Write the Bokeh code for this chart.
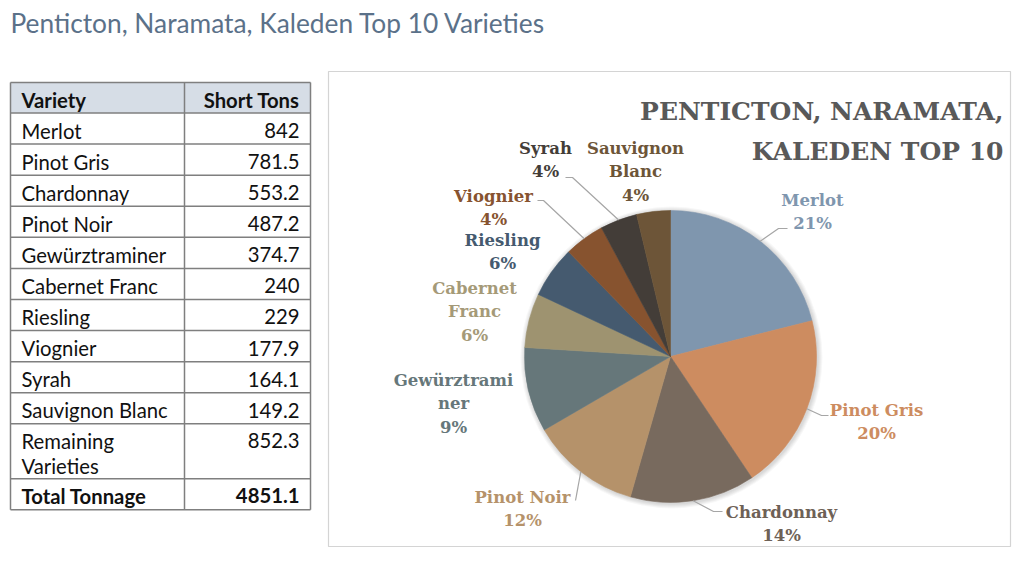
import math
from bokeh.plotting import figure
from bokeh.models import Range1d
from bokeh.core.properties import value
from bokeh.embed import file_html
from bokeh.resources import INLINE

# ---------------- data ----------------
page_title = "Penticton, Naramata, Kaleden Top 10 Varieties"
chart_title = ["PENTICTON, NARAMATA,", "KALEDEN TOP 10"]
header = ["Variety", "Short Tons"]
varieties = ["Merlot", "Pinot Gris", "Chardonnay", "Pinot Noir", "Gewürztraminer",
             "Cabernet Franc", "Riesling", "Viognier", "Syrah", "Sauvignon Blanc"]
tons = [842, 781.5, 553.2, 487.2, 374.7, 240, 229, 177.9, 164.1, 149.2]
remaining_label = ["Remaining", "Varieties"]
remaining_tons = 852.3
total_label = "Total Tonnage"
total_tons = 4851.1
pie_labels = [["Merlot"], ["Pinot Gris"], ["Chardonnay"], ["Pinot Noir"],
              ["Gewürztrami", "ner"], ["Cabernet", "Franc"], ["Riesling"],
              ["Viognier"], ["Syrah"], ["Sauvignon", "Blanc"]]
slice_colors = ["#7f96ae", "#cd8c60", "#786a5e", "#b5926a", "#66777a",
                "#9e9370", "#455a6f", "#87532f", "#433d38", "#6d5538"]
label_colors = ["#7f96ae", "#cd8c60", "#6e6156", "#b5926a", "#66777a",
                "#a59a78", "#455a6f", "#87532f", "#433d38", "#6d5538"]

# ---------------- layout ----------------
W, H = 1016, 562
def Y(ys):
    return 562 - ys

def TY(ys, size):
    # baseline correction for text glyphs
    return Y(ys - 0.33 * size)

p = figure(width=W, height=H, x_range=Range1d(0, 1016), y_range=Range1d(0, 562),
           output_backend="svg", toolbar_location=None, min_border=0)
p.axis.visible = False
p.grid.visible = False
p.outline_line_color = None
p.background_fill_color = "white"

TFONT = value("Lato")
SFONT = value("DejaVu Serif")

# page title
PT = 26.3
p.text(x=[10], y=[TY(31, PT)], text=[page_title], text_font=TFONT, text_font_size=f"{PT}px",
       text_color="#5b7189", text_baseline="alphabetic", text_align="left")

# ---------------- table ----------------
tx0, tx1, tdiv = 10, 310, 184
header_top, header_bot = 82, 112.5
row_h = 31.08
rem_h = 55
tot_h = 31
row_tops = [header_bot + row_h * i for i in range(len(varieties))]
rem_top = header_bot + row_h * len(varieties)
tot_top = rem_top + rem_h
tot_bot = tot_top + tot_h

p.quad(left=[tx0], right=[tx1], top=[Y(header_top)], bottom=[Y(header_bot)],
       fill_color="#d6dde6", line_color=None)
hlines = [header_top, header_bot] + [t + row_h for t in row_tops] + [tot_top, tot_bot]
p.segment(x0=[tx0] * len(hlines), x1=[tx1] * len(hlines), y0=[Y(v) for v in hlines],
          y1=[Y(v) for v in hlines], line_color="#7f7f7f", line_width=1.5)
p.segment(x0=[tx0, tdiv, tx1], x1=[tx0, tdiv, tx1], y0=[Y(header_top)] * 3,
          y1=[Y(tot_bot)] * 3, line_color="#7f7f7f", line_width=1.5)

FS = 20.3
fs = f"{FS}px"
lx, rx = 21, 299
BASE = 24.2
common = dict(text_font=TFONT, text_font_size=fs, text_color="#111111",
              text_baseline="alphabetic")
p.text(x=[lx], y=[TY(header_top + BASE, FS)], text=[header[0]], text_font_style="bold",
       text_align="left", **common)
p.text(x=[rx], y=[TY(header_top + BASE, FS)], text=[header[1]], text_font_style="bold",
       text_align="right", **common)
p.text(x=[lx] * len(varieties), y=[TY(t + BASE, FS) for t in row_tops], text=varieties,
       text_align="left", **common)
p.text(x=[rx] * len(tons), y=[TY(t + BASE, FS) for t in row_tops],
       text=[f"{v:g}" for v in tons], text_align="right", **common)
p.text(x=[lx, lx], y=[TY(rem_top + 23.4, FS), TY(rem_top + 48.4, FS)], text=remaining_label,
       text_align="left", **common)
p.text(x=[rx], y=[TY(rem_top + 23.4, FS)], text=[f"{remaining_tons:g}"],
       text_align="right", **common)
p.text(x=[lx], y=[TY(tot_top + 23.4, FS)], text=[total_label], text_font_style="bold",
       text_align="left", **common)
p.text(x=[rx], y=[TY(tot_top + 23.4, FS)], text=[f"{total_tons:g}"], text_font_style="bold",
       text_align="right", **common)

# ---------------- chart box ----------------
p.quad(left=[328], right=[1010], top=[Y(71)], bottom=[Y(546)], fill_color=None,
       line_color="#d4d4d4", line_width=1.2)

CT = 25
p.text(x=[1003, 1003], y=[TY(119, CT), TY(159, CT)], text=chart_title, text_font=SFONT,
       text_font_size=f"{CT}px", text_font_style="bold", text_color="#595959",
       text_baseline="alphabetic", text_align="right")

# ---------------- pie ----------------
cx, cy, R = 670, 356, 146
total_top10 = sum(tons)
fr = [v / total_top10 for v in tons]
cum = [0]
for f in fr:
    cum.append(cum[-1] + f)
starts = [math.pi / 2 - 2 * math.pi * c for c in cum[:-1]]
ends = [math.pi / 2 - 2 * math.pi * c for c in cum[1:]]

for k in range(1, 6):
    p.circle(x=[cx + 1], y=[Y(cy) - 1], radius=R + k, fill_color="#000000",
             fill_alpha=0.03, line_color=None)

p.wedge(x=[cx] * len(tons), y=[Y(cy)] * len(tons), radius=R, start_angle=starts,
        end_angle=ends, direction="clock", fill_color=slice_colors,
        line_color=slice_colors, line_width=0.6)

label_pos = [(812, 205), (876, 415), (781, 517), (522, 502), (453, 385),
             (474, 293), (502, 245), (493, 201), (545, 153), (635, 153)]
LS = 23.5
LF = 16.5
for i, lines in enumerate(pie_labels):
    pct = f"{round(100 * fr[i])}%"
    all_lines = lines + [pct]
    lxp, lyp = label_pos[i]
    p.text(x=[lxp] * len(all_lines), y=[TY(lyp + LS * j, LF) for j in range(len(all_lines))],
           text=all_lines, text_font=SFONT, text_font_size=f"{LF}px",
           text_font_style="bold", text_color=label_colors[i],
           text_baseline="alphabetic", text_align="center")

leaders = {0: [(778, 228), (787, 228)], 1: [(821, 415), (828, 415)],
           2: [(713, 511), (722, 511)], 3: [(575, 500)],
           7: [(543, 200), (537, 200)], 8: [(572, 177), (565, 177)]}
for i, pts in leaders.items():
    mid = (cum[i] + cum[i + 1]) / 2 * 2 * math.pi
    ex = cx + R * math.sin(mid)
    ey = cy - R * math.cos(mid)
    xs = [ex] + [q[0] for q in pts]
    ys = [Y(ey)] + [Y(q[1]) for q in pts]
    p.line(x=xs, y=ys, line_color="#a6a6a6", line_width=1.2)

open("out.html", "w").write(file_html(p, INLINE))
